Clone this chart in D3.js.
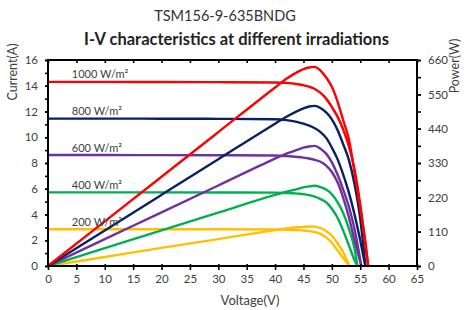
<!DOCTYPE html>
<html><head><meta charset="utf-8">
<script src="https://cdn.jsdelivr.net/npm/d3@7"></script>
<style>body{margin:0;background:#fff}svg{display:block}text{font-family:Lato,"Open Sans",sans-serif}</style>
</head><body><svg id="c" width="468" height="310"></svg>
<script>
// ---- data ----
const irradiances = ["1000 W/m²","800 W/m²","600 W/m²","400 W/m²","200 W/m²"];
const colors = ["#ff0000","#0a2160","#7030a0","#00b050","#ffc000"];

const voltage1000 = [0,10,20,30,40,42,44,45,46,47,48,49,50,51,52,53,54,55,56,56.4];
const current1000 = [14.30,14.30,14.29,14.28,14.25,14.22,14.12,14.04,13.93,13.75,13.45,13.0,12.35,11.6,10.6,9.3,7.5,4.8,1.3,0];
const power1000   = [0,143,286,429,572,600,622,631,636,638,626,604,574,527,467,406,300,185,65,0];

const voltage800 = [0,10,20,30,40,42,44,45,46,47,48,49,50,51,52,53,54,55,55.9];
const current800 = [11.45,11.45,11.44,11.43,11.40,11.33,11.18,11.05,10.9,10.7,10.4,9.95,9.2,8.3,7.1,5.7,4.0,2.0,0];
const power800   = [0,114,228,342,456,478,497,505,511,513,506,492,470,436,390,340,262,152,0];

const voltage600 = [0,10,20,30,40,42,44,45,46,47,48,49,50,51,52,53,54,55.2];
const current600 = [8.62,8.62,8.61,8.60,8.58,8.54,8.47,8.42,8.35,8.25,8.1,7.8,7.3,6.5,5.3,3.8,2.0,0];
const power600   = [0,86,172,258,344,360,373,379,383,385,376,360,332,293,245,190,118,0];

const voltage400 = [0,10,20,30,40,42,44,45,46,47,48,49,50,51,52,53,54,54.5];
const current400 = [5.72,5.72,5.72,5.71,5.70,5.67,5.62,5.58,5.5,5.38,5.2,4.95,4.45,3.75,2.75,1.6,0.45,0];
const power400   = [0,57,114,171,228,238,247,252,255,257,253,245,230,205,170,120,55,0];

const voltage200 = [0,10,20,30,40,42,44,45,46,47,48,49,50,51,52,53.1];
const current200 = [2.85,2.85,2.85,2.85,2.84,2.82,2.79,2.76,2.71,2.63,2.5,2.22,1.8,1.2,0.62,0];
const power200   = [0,29,58,86,115,120,124,125.5,126.5,126,121,112,97,73,44,0];

const voltageTicks = [0,5,10,15,20,25,30,35,40,45,50,55,60,65];
const currentTicks = [0,2,4,6,8,10,12,14,16];
const powerTicks = [0,110,220,330,440,550,660];

const title = "TSM156-9-635BNDG";
const subtitle = "I-V characteristics at different irradiations";

// ---- chart ----
const series = [
  {v:voltage1000,i:current1000,p:power1000},
  {v:voltage800,i:current800,p:power800},
  {v:voltage600,i:current600,p:power600},
  {v:voltage400,i:current400,p:power400},
  {v:voltage200,i:current200,p:power200}
];
const L=48,R=417,T=60,B=266;
const svg=d3.select("#c");
const x=d3.scaleLinear().domain([0,65]).range([L,R]);
const yI=d3.scaleLinear().domain([0,16]).range([B,T]);
const yP=d3.scaleLinear().domain([0,660]).range([B,T]);
const txt="#404040";

svg.append("text").attr("x",225).attr("y",21).attr("text-anchor","middle")
  .attr("font-size",14.5).attr("fill","#333").text(title);
svg.append("text").attr("x",236.5).attr("y",45).attr("text-anchor","middle")
  .attr("font-size",16.5).attr("font-weight","bold").attr("fill","#222").text(subtitle);

// lines
const g=svg.append("g");
series.slice().reverse().forEach((s,k)=>{
  const idx=series.length-1-k;
  const pts=s.v.map((v,j)=>({v:v,i:s.i[j],p:s.p[j]}));
  g.append("path").datum(pts).attr("fill","none").attr("stroke",colors[idx]).attr("stroke-width",2.4)
    .attr("d",d3.line().x(d=>x(d.v)).y(d=>yI(d.i)).curve(d3.curveMonotoneX));
  g.append("path").datum(pts).attr("fill","none").attr("stroke",colors[idx]).attr("stroke-width",2.4)
    .attr("d",d3.line().x(d=>x(d.v)).y(d=>yP(d.p)).curve(d3.curveMonotoneX));
});

// labels
series.forEach((s,k)=>{
  svg.append("text").attr("x",x(4.2)).attr("y",yI(s.i[0])-3.5)
    .attr("font-size",11).attr("fill",txt).text(irradiances[k]);
});

// axes
function styleAxis(sel){
  sel.select(".domain").remove();
  sel.selectAll(".tick line").attr("stroke","#000").attr("stroke-width",1.6);
  sel.selectAll(".tick text").attr("fill",txt).attr("font-size",11.5).style("font-family","Lato,'Open Sans',sans-serif");
}
svg.append("g").attr("transform",`translate(0,${B})`)
  .call(d3.axisBottom(x).tickValues(voltageTicks).tickSize(4).tickPadding(5))
  .call(styleAxis);
svg.append("g").attr("transform",`translate(0,${B})`)
  .call(d3.axisBottom(x).tickValues(voltageTicks).tickSize(-2).tickFormat(""))
  .call(styleAxis);
svg.append("g").attr("transform",`translate(0,${T})`)
  .call(d3.axisBottom(x).tickValues(voltageTicks).tickSize(3).tickFormat(""))
  .call(styleAxis);
const ayMinor=d3.range(0,16.01,1);
svg.append("g").attr("transform",`translate(${L},0)`)
  .call(d3.axisLeft(yI).tickValues(ayMinor).tickSize(3).tickFormat(""))
  .call(styleAxis);
svg.append("g").attr("transform",`translate(${L},0)`)
  .call(d3.axisLeft(yI).tickValues(currentTicks).tickSize(3).tickPadding(7))
  .call(styleAxis);
const apMinor=d3.range(0,661,55);
svg.append("g").attr("transform",`translate(${R},0)`)
  .call(d3.axisRight(yP).tickValues(apMinor).tickSize(4).tickFormat(""))
  .call(styleAxis);
svg.append("g").attr("transform",`translate(${R},0)`)
  .call(d3.axisRight(yP).tickValues(powerTicks).tickSize(4).tickPadding(7))
  .call(styleAxis);

// frame
svg.append("rect").attr("x",L).attr("y",T).attr("width",R-L).attr("height",B-T)
  .attr("fill","none").attr("stroke","#000").attr("stroke-width",2);

svg.append("text").attr("transform","translate(17,72) rotate(-90)").attr("text-anchor","middle")
  .attr("font-size",12.5).attr("fill",txt).text("Current(A)");
svg.append("text").attr("transform","translate(459,66) rotate(-90)").attr("text-anchor","middle")
  .attr("font-size",12.5).attr("fill",txt).text("Power(W)");
svg.append("text").attr("x",250).attr("y",305).attr("text-anchor","middle")
  .attr("font-size",13).attr("fill",txt).text("Voltage(V)");
</script></body></html>
